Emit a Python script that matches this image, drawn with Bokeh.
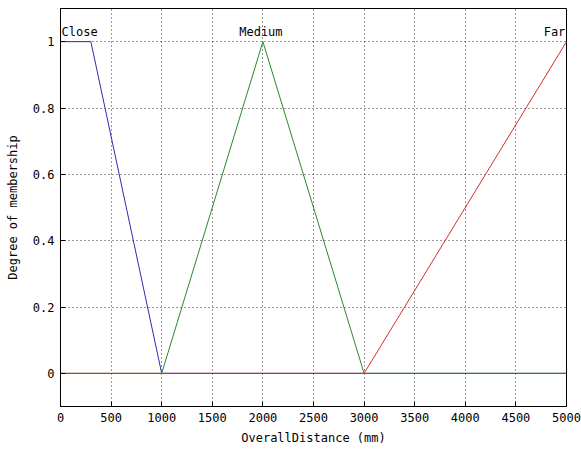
from bokeh.plotting import figure
from bokeh.models import FixedTicker, CustomJSTickFormatter, Range1d, Label
from bokeh.embed import file_html
from bokeh.resources import INLINE

# data
close_x = [0, 300, 1000, 5000]
close_y = [1, 1, 0, 0]
medium_x = [0, 1000, 2000, 3000, 5000]
medium_y = [0, 0, 1, 0, 0]
far_x = [0, 3000, 5000]
far_y = [0, 0, 1]
mf_names = ["Close", "Medium", "Far"]
mf_label_x = [150, 2000, 5000]
mf_label_y = [1, 1, 1]
x_ticks = [0, 500, 1000, 1500, 2000, 2500, 3000, 3500, 4000, 4500, 5000]
y_ticks = [0, 0.2, 0.4, 0.6, 0.8, 1]

FONT = "DejaVu Sans Mono"
# horizontal nudges (px) so the names stay inside the plotting frame
label_nudge = [4, -2, -12]

p = figure(width=581, height=453, output_backend="svg", toolbar_location=None,
           x_range=Range1d(0, 5000), y_range=Range1d(-0.1, 1.1),
           min_border_left=60, min_border_right=15, min_border_top=8, min_border_bottom=47)

p.line(close_x, close_y, line_color="#2c2cb0", line_width=1)
p.line(medium_x, medium_y, line_color="#2a8a2a", line_width=1)
p.line(far_x, far_y, line_color="#d03030", line_width=1)

for name, lx, ly, dx in zip(mf_names, mf_label_x, mf_label_y, label_nudge):
    p.add_layout(Label(x=lx, y=ly, text=name, text_align="center",
                       text_baseline="alphabetic", y_offset=10, x_offset=dx,
                       text_font=FONT, text_font_size="12px", text_color="black"))

p.xaxis.ticker = FixedTicker(ticks=x_ticks)
p.yaxis.ticker = FixedTicker(ticks=y_ticks)
p.yaxis.formatter = CustomJSTickFormatter(code="return String(Math.round(tick*10)/10);")

p.xaxis.axis_label = "OverallDistance (mm)"
p.yaxis.axis_label = "Degree of membership"

for ax in (p.xaxis[0], p.yaxis[0]):
    ax.major_tick_in = 5
    ax.major_tick_out = 0
    ax.minor_tick_in = 0
    ax.minor_tick_out = 0
    ax.axis_line_color = "black"
    ax.major_tick_line_color = "black"
    ax.major_label_text_font = FONT
    ax.major_label_text_font_size = "12px"
    ax.major_label_text_color = "black"
    ax.axis_label_text_font = FONT
    ax.axis_label_text_font_size = "12px"
    ax.axis_label_text_font_style = "normal"
    ax.axis_label_text_color = "black"

p.xaxis.major_label_standoff = 6
p.xaxis.axis_label_standoff = 6
p.yaxis.major_label_standoff = 6
p.yaxis.axis_label_standoff = 10

for g in (p.xgrid[0], p.ygrid[0]):
    g.grid_line_color = "black"
    g.grid_line_dash = "1 3"
    g.grid_line_alpha = 0.8
    g.grid_line_width = 1

p.outline_line_color = "black"
p.outline_line_width = 1
p.background_fill_color = "white"
p.border_fill_color = "white"

open("out.html", "w").write(file_html(p, INLINE))
